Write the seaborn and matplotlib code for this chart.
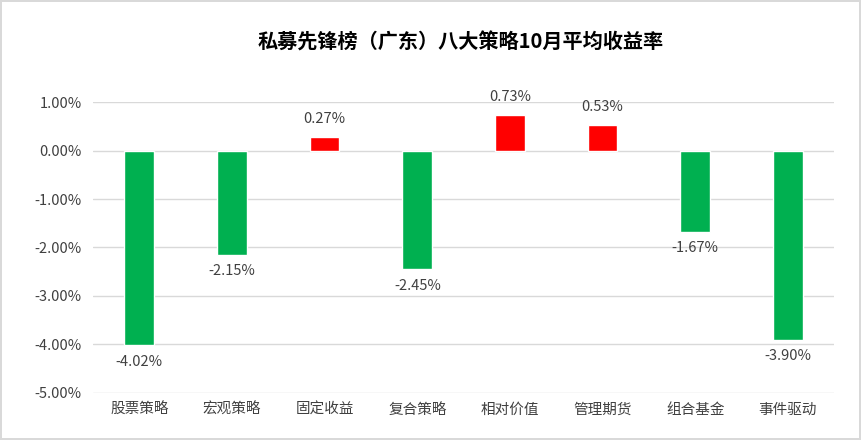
import matplotlib
matplotlib.use("Agg")
import matplotlib.pyplot as plt
import seaborn as sns
import pandas as pd
from matplotlib.ticker import FuncFormatter, MultipleLocator

categories = ["股票策略", "宏观策略", "固定收益", "复合策略", "相对价值", "管理期货", "组合基金", "事件驱动"]
values = [-4.02, -2.15, 0.27, -2.45, 0.73, 0.53, -1.67, -3.90]
title = "私募先锋榜（广东）八大策略10月平均收益率"

sns.set_theme(style="white")
plt.rcParams['font.family'] = ['Noto Sans CJK SC', 'DejaVu Sans']

df = pd.DataFrame({"cat": categories, "val": values})
colors = ["#FF0000" if v >= 0 else "#00B050" for v in values]

fig = plt.figure(figsize=(8.61, 4.40), dpi=100)
fig.patch.set_edgecolor("#D9D9D9")
fig.patch.set_linewidth(1.5)
ax = fig.add_axes([0.108, 0.107, 0.861, 0.661])

sns.barplot(data=df, x="cat", y="val", hue="cat", palette=colors, legend=False,
            width=0.32, ax=ax, saturation=1)

ax.set_ylim(-5, 1)
ax.yaxis.set_major_locator(MultipleLocator(1))
ax.yaxis.set_major_formatter(FuncFormatter(lambda v, p: f"{v:.2f}%"))
ax.grid(axis="y", color="#D9D9D9", linewidth=1)
ax.set_axisbelow(True)
for s in ax.spines.values():
    s.set_visible(False)
ax.set_xlabel("")
ax.set_ylabel("")
ax.tick_params(axis="both", length=0, colors="#404040", labelsize=10.5)
ax.tick_params(axis="x", pad=7)
ax.tick_params(axis="y", pad=8)

for i, v in enumerate(values):
    if v >= 0:
        ax.annotate(f"{v:.2f}%", (i, v), xytext=(0, 8), textcoords="offset points",
                    ha="center", va="bottom", fontsize=10.5, color="#404040")
    else:
        ax.annotate(f"{v:.2f}%", (i, v), xytext=(0, -7), textcoords="offset points",
                    ha="center", va="top", fontsize=10.5, color="#404040")

fig.text(0.535, 0.905, title, ha="center", va="center", fontsize=14.5,
         fontweight="bold", color="#000000")

fig.savefig("out.png", dpi=100)
